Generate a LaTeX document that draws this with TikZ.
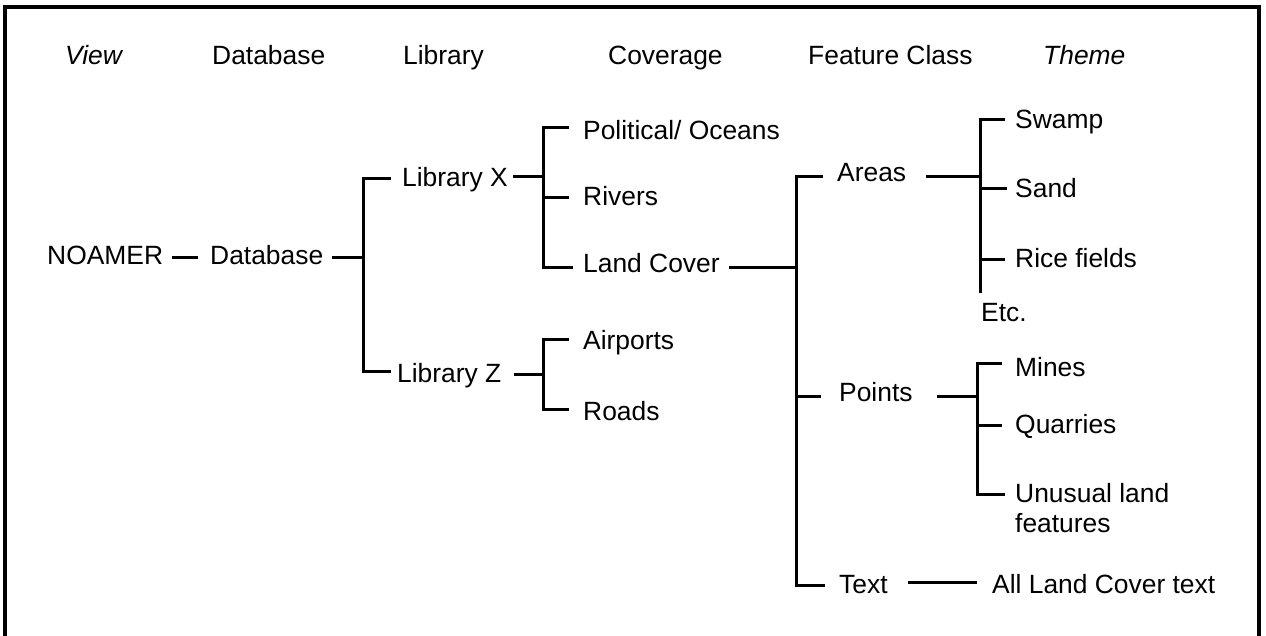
\documentclass[tikz,border=0pt]{standalone}
\usepackage{fontspec}
\setmainfont{Liberation Sans}
\begin{document}
\begin{tikzpicture}[x=1pt,y=-1pt,
  lbl/.style={anchor=base west,inner sep=0pt,font=\fontsize{26.4}{30}\selectfont},
  hdr/.style={lbl},
  conn/.style={line width=3pt,line cap=butt,line join=miter}]
\useasboundingbox (0,0) rectangle (1266,636);
% frame (no bottom edge)
\draw[line width=3.2pt] (5,645) -- (5,7) -- (1259,7) -- (1259,645);
% headers
\node[hdr,font=\fontsize{26.4}{30}\selectfont\itshape] (hView) at (65,64.5) {View};
\node[hdr] (hDb) at (212,64.5) {Database};
\node[hdr] (hLib) at (403,64.5) {Library};
\node[hdr] (hCov) at (608,64.5) {Coverage};
\node[hdr] (hFc) at (808,64.5) {Feature Class};
\node[hdr,font=\fontsize{26.4}{30}\selectfont\itshape] (hTh) at (1043,64.5) {Theme};
% tree labels
\node[lbl] (noamer) at (47,265) {NOAMER};
\node[lbl] (db) at (210,265) {Database};
\node[lbl] (libx) at (402,187) {Library X};
\node[lbl] (libz) at (397,382) {Library Z};
\node[lbl] (pol) at (583,140) {Political/ Oceans};
\node[lbl] (riv) at (583,206) {Rivers};
\node[lbl] (lc) at (583,273) {Land Cover};
\node[lbl] (air) at (583,349) {Airports};
\node[lbl] (road) at (583,420) {Roads};
\node[lbl] (areas) at (837,182) {Areas};
\node[lbl] (points) at (839,401) {Points};
\node[lbl] (text) at (839,593) {Text};
\node[lbl] (swamp) at (1015,129) {Swamp};
\node[lbl] (sand) at (1015,198) {Sand};
\node[lbl] (rice) at (1015,268) {Rice fields};
\node[lbl] (etc) at (981,321) {Etc.};
\node[lbl] (mines) at (1015,376) {Mines};
\node[lbl] (quar) at (1015,433) {Quarries};
\node[lbl] (unus) at (1015,502) {Unusual land};
\node[lbl] (unus2) at (1015,532) {features};
\node[lbl] (allt) at (992,593) {All Land Cover text};
% junction coordinates
\coordinate (a1) at (172,258); \coordinate (a2) at (198,258);
\coordinate (b1) at (332,258); \coordinate (b2) at (362,258);
\coordinate (c1) at (391,179); \coordinate (c2) at (363,179);
\coordinate (c3) at (363,371); \coordinate (c4) at (391,371);
\coordinate (d1) at (513,177); \coordinate (d2) at (543,177);
\coordinate (e1) at (569,128); \coordinate (e2) at (543,128);
\coordinate (e3) at (543,268); \coordinate (e4) at (573,268);
\coordinate (e5) at (543,198); \coordinate (e6) at (569,198);
\coordinate (f1) at (514,374); \coordinate (f2) at (543,374);
\coordinate (g1) at (569,339); \coordinate (g2) at (543,339);
\coordinate (g3) at (543,409); \coordinate (g4) at (569,409);
\coordinate (h1) at (729,268); \coordinate (h2) at (796,268);
\coordinate (i1) at (823,177); \coordinate (i2) at (796,177);
\coordinate (i3) at (796,585); \coordinate (i4) at (825,585);
\coordinate (i5) at (796,396); \coordinate (i6) at (821,396);
\coordinate (j1) at (926,177); \coordinate (j2) at (980,177);
\coordinate (k1) at (1005,120); \coordinate (k2) at (980,120);
\coordinate (k3) at (980,293);
\coordinate (k4) at (980,189); \coordinate (k5) at (1007,189);
\coordinate (k6) at (980,260); \coordinate (k7) at (1005,260);
\coordinate (l1) at (937,396); \coordinate (l2) at (977,396);
\coordinate (m1) at (1002,363); \coordinate (m2) at (977,363);
\coordinate (m3) at (977,494); \coordinate (m4) at (1005,494);
\coordinate (m5) at (977,425); \coordinate (m6) at (1002,425);
\coordinate (n1) at (908,582); \coordinate (n2) at (977,582);
% connectors
\draw[conn] (a1) -- (a2);
\draw[conn] (b1) -- (b2);
\draw[conn] (c1) -- (c2) -- (c3) -- (c4);
\draw[conn] (d1) -- (d2);
\draw[conn] (e1) -- (e2) -- (e3) -- (e4);
\draw[conn] (e5) -- (e6);
\draw[conn] (f1) -- (f2);
\draw[conn] (g1) -- (g2) -- (g3) -- (g4);
\draw[conn] (h1) -- (h2);
\draw[conn] (i1) -- (i2) -- (i3) -- (i4);
\draw[conn] (i5) -- (i6);
\draw[conn] (j1) -- (j2);
\draw[conn] (k1) -- (k2) -- (k3);
\draw[conn] (k4) -- (k5);
\draw[conn] (k6) -- (k7);
\draw[conn] (l1) -- (l2);
\draw[conn] (m1) -- (m2) -- (m3) -- (m4);
\draw[conn] (m5) -- (m6);
\draw[conn] (n1) -- (n2);
\end{tikzpicture}
\end{document}
